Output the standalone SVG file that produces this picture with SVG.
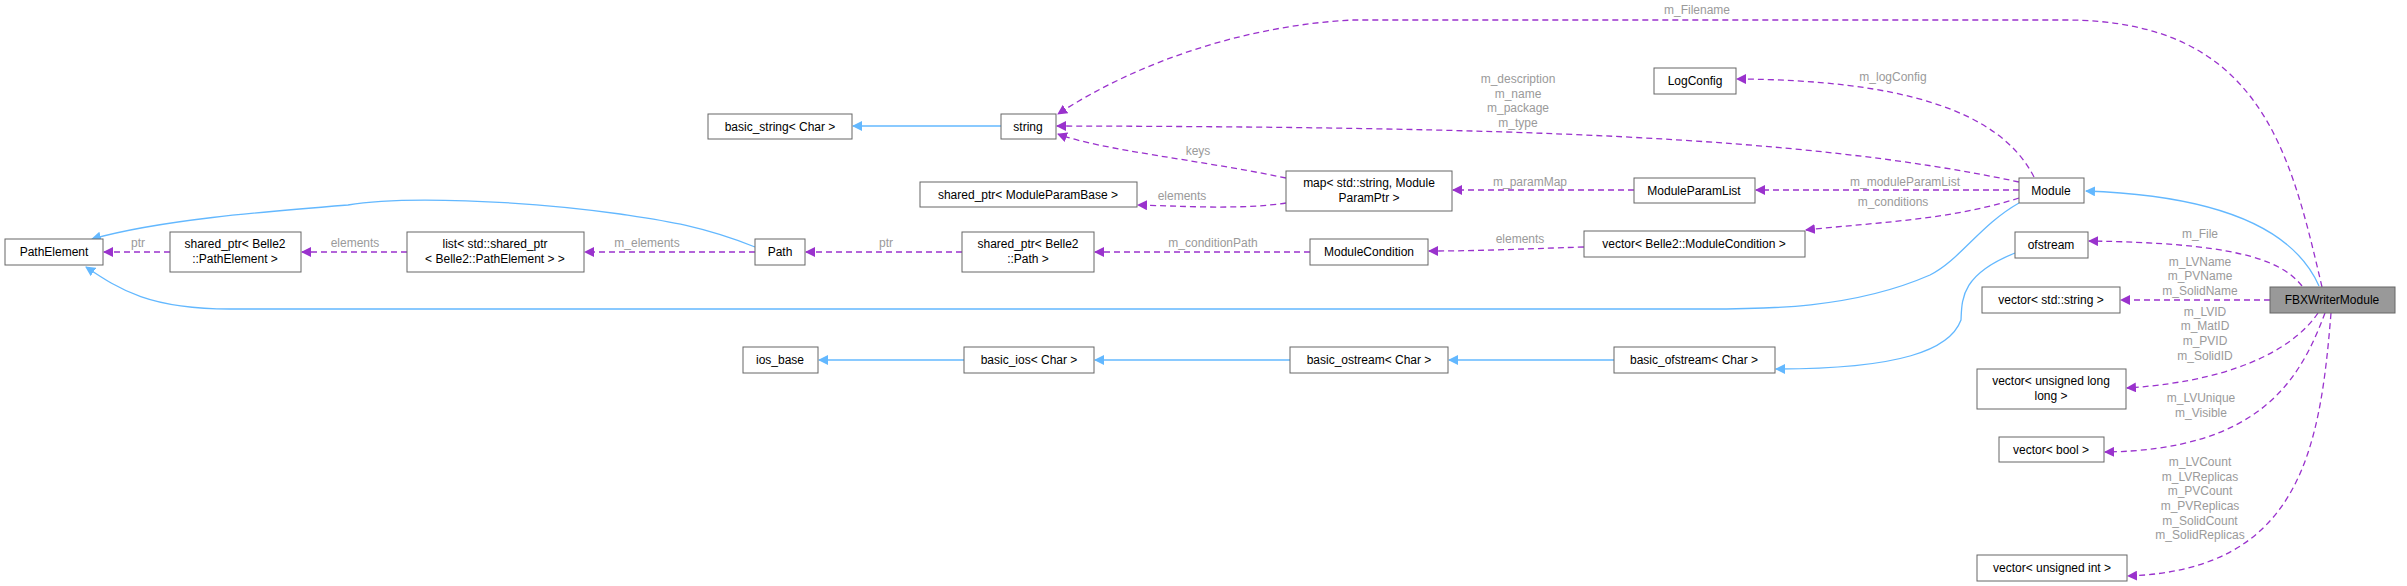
<svg xmlns="http://www.w3.org/2000/svg" width="2407" height="586" viewBox="0 0 2407 586">
<style>
.n rect{fill:#fff;stroke:#666;stroke-width:1}
.n text{font-family:"Liberation Sans",Arial,sans-serif;font-size:12px;fill:#000;text-anchor:middle}
.b{fill:none;stroke:#63b8ff;stroke-width:1.3}
.d{fill:none;stroke:#9a32cd;stroke-width:1.3;stroke-dasharray:6,4}
.l{font-family:"Liberation Sans",Arial,sans-serif;font-size:12px;fill:#9a9a9a;text-anchor:middle}
</style>
<defs>
<marker id="ab" markerWidth="10" markerHeight="10" refX="9" refY="5" orient="auto" markerUnits="userSpaceOnUse"><path d="M0,0 L10,5 L0,10 z" fill="#63b8ff"/></marker>
<marker id="ad" markerWidth="10" markerHeight="10" refX="9" refY="5" orient="auto" markerUnits="userSpaceOnUse"><path d="M0,0 L10,5 L0,10 z" fill="#9a32cd"/></marker>
</defs>
<rect width="2407" height="586" fill="#fff"/>
<g id="edges">
<path class="b" marker-end="url(#ab)" d="M1001,126 L853,126"/>
<path class="b" marker-end="url(#ab)" d="M755,247 C700,225 660,220 620,214 C520,200 400,196 348,205 C260,212 160,220 92,239"/>
<path class="b" marker-end="url(#ab)" d="M2019,203 C1980,225 1960,260 1930,275 C1850,310 1760,309 1700,309 L230,309 C150,309 120,290 86,267"/>
<path class="b" marker-end="url(#ab)" d="M2319,286 C2290,220 2200,195 2086,191"/>
<path class="b" marker-end="url(#ab)" d="M2015,253 C1960,275 1962,300 1961,320 C1950,350 1900,369 1776,369"/>
<path class="b" marker-end="url(#ab)" d="M1614,360 L1449,360"/>
<path class="b" marker-end="url(#ab)" d="M1290,360 L1095,360"/>
<path class="b" marker-end="url(#ab)" d="M964,360 L819,360"/>
<path class="d" marker-end="url(#ad)" d="M2322,287 C2290,150 2260,20 2065,20 L1353,20 C1250,25 1140,60 1058,114"/>
<text class="l" x="1697" y="14">m_Filename</text>
<path class="d" marker-end="url(#ad)" d="M2019,182 C1800,135 1500,127 1057,126"/>
<text class="l" x="1518" y="83">m_description</text>
<text class="l" x="1518" y="98">m_name</text>
<text class="l" x="1518" y="112">m_package</text>
<text class="l" x="1518" y="127">m_type</text>
<path class="d" marker-end="url(#ad)" d="M1286,178 C1200,160 1100,150 1058,134"/>
<text class="l" x="1198" y="155">keys</text>
<path class="d" marker-end="url(#ad)" d="M1286,203 C1240,210 1180,206 1138,205"/>
<text class="l" x="1182" y="200">elements</text>
<path class="d" marker-end="url(#ad)" d="M2034,177 C2000,110 1900,80 1737,79"/>
<text class="l" x="1893" y="81">m_logConfig</text>
<path class="d" marker-end="url(#ad)" d="M1634,190 L1453,190"/>
<text class="l" x="1530" y="186">m_paramMap</text>
<path class="d" marker-end="url(#ad)" d="M2019,190 L1756,190"/>
<text class="l" x="1905" y="186">m_moduleParamList</text>
<path class="d" marker-end="url(#ad)" d="M2019,198 C1950,220 1880,222 1806,230"/>
<text class="l" x="1893" y="206">m_conditions</text>
<path class="d" marker-end="url(#ad)" d="M1584,247 C1520,249 1480,251 1429,251"/>
<text class="l" x="1520" y="243">elements</text>
<path class="d" marker-end="url(#ad)" d="M1310,252 L1095,252"/>
<text class="l" x="1213" y="247">m_conditionPath</text>
<path class="d" marker-end="url(#ad)" d="M962,252 L806,252"/>
<text class="l" x="886" y="247">ptr</text>
<path class="d" marker-end="url(#ad)" d="M755,252 L585,252"/>
<text class="l" x="647" y="247">m_elements</text>
<path class="d" marker-end="url(#ad)" d="M407,252 L302,252"/>
<text class="l" x="355" y="247">elements</text>
<path class="d" marker-end="url(#ad)" d="M170,252 L104,252"/>
<text class="l" x="138" y="247">ptr</text>
<path class="d" marker-end="url(#ad)" d="M2302,286 C2280,258 2230,243 2089,241"/>
<text class="l" x="2200" y="238">m_File</text>
<path class="d" marker-end="url(#ad)" d="M2270,300 L2121,300"/>
<text class="l" x="2200" y="266">m_LVName</text>
<text class="l" x="2200" y="280">m_PVName</text>
<text class="l" x="2200" y="295">m_SolidName</text>
<path class="d" marker-end="url(#ad)" d="M2318,313 C2300,340 2250,380 2127,388"/>
<text class="l" x="2205" y="316">m_LVID</text>
<text class="l" x="2205" y="330">m_MatID</text>
<text class="l" x="2205" y="345">m_PVID</text>
<text class="l" x="2205" y="360">m_SolidID</text>
<path class="d" marker-end="url(#ad)" d="M2325,313 C2300,380 2260,450 2105,452"/>
<text class="l" x="2201" y="402">m_LVUnique</text>
<text class="l" x="2201" y="417">m_Visible</text>
<path class="d" marker-end="url(#ad)" d="M2331,313 C2320,450 2300,570 2128,576"/>
<text class="l" x="2200" y="466">m_LVCount</text>
<text class="l" x="2200" y="481">m_LVReplicas</text>
<text class="l" x="2200" y="495">m_PVCount</text>
<text class="l" x="2200" y="510">m_PVReplicas</text>
<text class="l" x="2200" y="525">m_SolidCount</text>
<text class="l" x="2200" y="539">m_SolidReplicas</text>
</g>
<g id="FBXWriterModule" class="n"><rect x="2270" y="287" width="125" height="26" style="fill:#999"/><text x="2332" y="304">FBXWriterModule</text></g>
<g id="Module" class="n"><rect x="2019" y="178" width="65" height="25"/><text x="2051" y="195">Module</text></g>
<g id="PathElement" class="n"><rect x="5" y="239" width="98" height="26"/><text x="54" y="256">PathElement</text></g>
<g id="SharedPtrPathElement" class="n"><rect x="170" y="232" width="131" height="40"/><text x="235" y="248">shared_ptr&lt; Belle2</text><text x="235" y="263">::PathElement &gt;</text></g>
<g id="ListPathElement" class="n"><rect x="407" y="232" width="177" height="40"/><text x="495" y="248">list&lt; std::shared_ptr</text><text x="495" y="263">&lt; Belle2::PathElement &gt; &gt;</text></g>
<g id="Path" class="n"><rect x="755" y="239" width="50" height="26"/><text x="780" y="256">Path</text></g>
<g id="SharedPtrPath" class="n"><rect x="962" y="232" width="132" height="40"/><text x="1028" y="248">shared_ptr&lt; Belle2</text><text x="1028" y="263">::Path &gt;</text></g>
<g id="ModuleCondition" class="n"><rect x="1310" y="239" width="118" height="26"/><text x="1369" y="256">ModuleCondition</text></g>
<g id="VectorModuleCondition" class="n"><rect x="1584" y="231" width="221" height="26"/><text x="1694" y="248">vector&lt; Belle2::ModuleCondition &gt;</text></g>
<g id="ModuleParamList" class="n"><rect x="1634" y="178" width="121" height="25"/><text x="1694" y="195">ModuleParamList</text></g>
<g id="Map" class="n"><rect x="1286" y="171" width="166" height="40"/><text x="1369" y="187">map&lt; std::string, Module</text><text x="1369" y="202">ParamPtr &gt;</text></g>
<g id="SharedPtrModuleParamBase" class="n"><rect x="920" y="182" width="217" height="25"/><text x="1028" y="199">shared_ptr&lt; ModuleParamBase &gt;</text></g>
<g id="String" class="n"><rect x="1001" y="114" width="55" height="25"/><text x="1028" y="131">string</text></g>
<g id="BasicString" class="n"><rect x="708" y="114" width="144" height="25"/><text x="780" y="131">basic_string&lt; Char &gt;</text></g>
<g id="LogConfig" class="n"><rect x="1654" y="68" width="82" height="26"/><text x="1695" y="85">LogConfig</text></g>
<g id="Ofstream" class="n"><rect x="2015" y="232" width="73" height="26"/><text x="2051" y="249">ofstream</text></g>
<g id="BasicOfstream" class="n"><rect x="1614" y="347" width="161" height="26"/><text x="1694" y="364">basic_ofstream&lt; Char &gt;</text></g>
<g id="BasicOstream" class="n"><rect x="1290" y="347" width="158" height="26"/><text x="1369" y="364">basic_ostream&lt; Char &gt;</text></g>
<g id="BasicIos" class="n"><rect x="964" y="347" width="130" height="26"/><text x="1029" y="364">basic_ios&lt; Char &gt;</text></g>
<g id="IosBase" class="n"><rect x="743" y="347" width="75" height="26"/><text x="780" y="364">ios_base</text></g>
<g id="VectorString" class="n"><rect x="1982" y="287" width="138" height="26"/><text x="2051" y="304">vector&lt; std::string &gt;</text></g>
<g id="VectorULL" class="n"><rect x="1977" y="369" width="149" height="40"/><text x="2051" y="385">vector&lt; unsigned long</text><text x="2051" y="400">long &gt;</text></g>
<g id="VectorBool" class="n"><rect x="1999" y="437" width="105" height="25"/><text x="2051" y="454">vector&lt; bool &gt;</text></g>
<g id="VectorUInt" class="n"><rect x="1977" y="555" width="150" height="26"/><text x="2052" y="572">vector&lt; unsigned int &gt;</text></g>
</svg>
